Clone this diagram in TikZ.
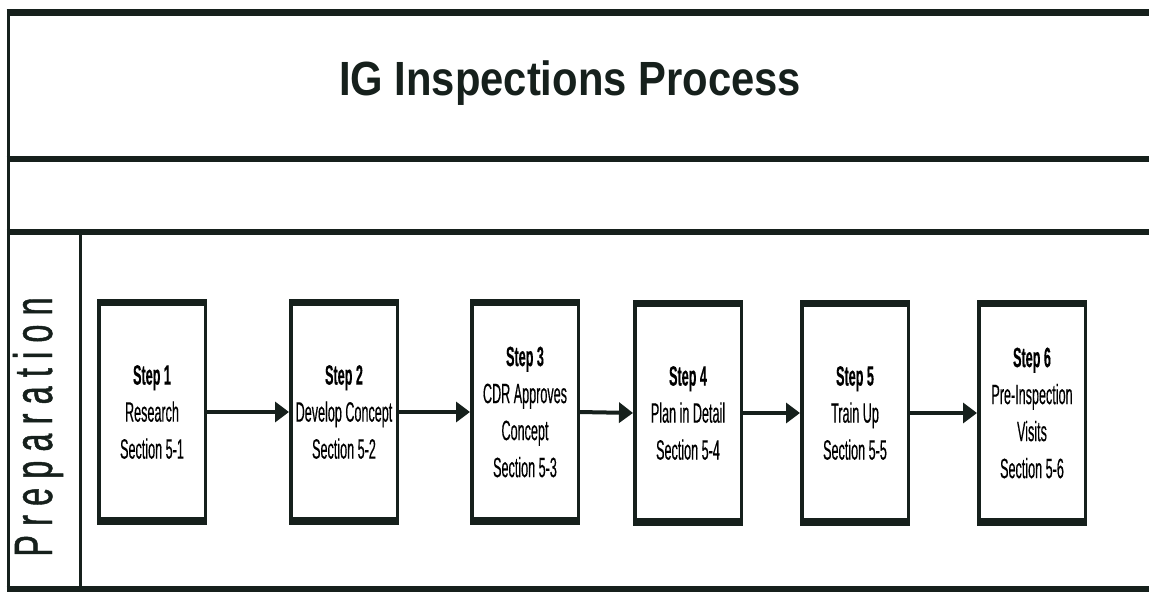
\documentclass[tikz,border=0pt]{standalone}
\usepackage{fontspec}
\setmainfont{Liberation Sans}
\newfontfamily\stepfont[FakeStretch=0.45,FakeBold=0.3]{Liberation Sans}
\newfontfamily\titlefont[FakeStretch=0.87]{Liberation Sans}
\newfontfamily\prepfont[FakeStretch=0.6,LetterSpace=17,FakeBold=0.8]{Liberation Sans}
\usetikzlibrary{arrows.meta}
\definecolor{ink}{RGB}{22,32,28}
\begin{document}
\begin{tikzpicture}[x=1pt,y=-1pt,
  frame/.style={draw=ink,line width=6.5pt},
  thinframe/.style={draw=ink,line width=3pt},
  stepbox/.style={draw=ink,line width=3.5pt,outer sep=0pt,inner sep=0pt,
    minimum width=106.5pt,minimum height=218.5pt,align=center,
    font=\stepfont\fontsize{28}{37}\selectfont},
  edgetop/.style={draw=ink,line width=7pt,shorten <=-1.75pt,shorten >=-1.75pt},
  edgebot/.style={draw=ink,line width=8pt,shorten <=-1.75pt,shorten >=-1.75pt},
  flow/.style={draw=ink,line width=4pt,shorten >=1.75pt,
    -{Triangle[length=14pt,width=20pt]}}]
\useasboundingbox (0,0) rectangle (1149,596);
\fill[white] (0,0) rectangle (1149,596);
% frame
\draw[frame] (6.5,12.5) -- (1149,12.5);
\draw[frame] (6.5,159) -- (1149,159);
\draw[frame] (6.5,232) -- (1149,232);
\draw[frame] (6.5,589) -- (1149,589);
\draw[thinframe] (8,10) -- (8,592);
\draw[thinframe] (80,232) -- (80,589);
% title
\node[anchor=base,font=\titlefont\fontsize{48}{52}\selectfont\bfseries,text=ink] (title) at (570,96) {IG Inspections Process};
% lane label
\node[rotate=90,anchor=base,font=\prepfont\fontsize{54}{54}\selectfont,text=ink] (prep) at (52,427) {Preparation};
% steps
\node[stepbox] (s1) at (152,412) {\textbf{Step 1}\\Research\\Section 5-1};
\node[stepbox] (s2) at (344,412) {\textbf{Step 2}\\Develop Concept\\Section 5-2};
\node[stepbox] (s3) at (525,412) {\textbf{Step 3}\\CDR Approves\\Concept\\Section 5-3};
\node[stepbox] (s4) at (688,413) {\textbf{Step 4}\\Plan in Detail\\Section 5-4};
\node[stepbox] (s5) at (855,413) {\textbf{Step 5}\\Train Up\\Section 5-5};
\node[stepbox] (s6) at (1032,413) {\textbf{Step 6}\\Pre-Inspection\\Visits\\Section 5-6};
\foreach \n in {s1,s2,s3,s4,s5,s6}{
  \draw[edgetop] (\n.north west) -- (\n.north east);
  \draw[edgebot] (\n.south west) -- (\n.south east);
}
\draw[flow] (s1.east) -- (s2.west);
\draw[flow] (s2.east) -- (s3.west);
\draw[flow] (s3.east) -- (s4.west);
\draw[flow] (s4.east) -- (s5.west);
\draw[flow] (s5.east) -- (s6.west);
\end{tikzpicture}
\end{document}
